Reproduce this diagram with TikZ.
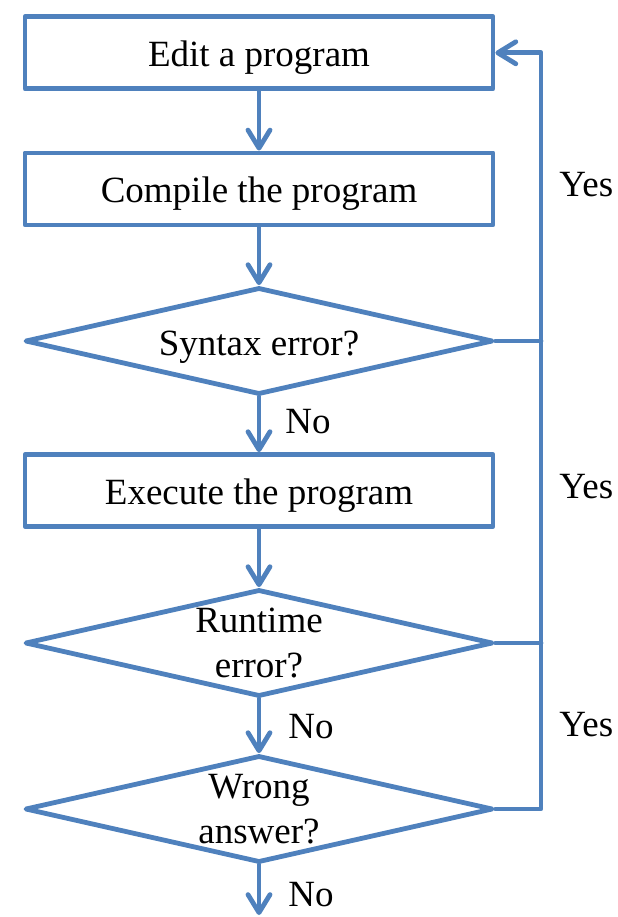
\documentclass[tikz,border=0pt]{standalone}
\usepackage{fontspec}
\setmainfont{Liberation Serif}
\usetikzlibrary{arrows.meta,shapes.geometric}
\definecolor{ln}{RGB}{79,129,189}
\tikzset{
  every picture/.style={line width=2.4pt, line join=round, line cap=round,
    >={Straight Barb[length=9pt,width=11pt,round]}},
  every node/.style={font=\fontsize{18.5}{22.5}\selectfont},
  % Kästen
  stepbox/.style={draw=ln, rectangle, minimum width=234pt, minimum height=36pt,
    inner sep=0pt, text height=14pt, text depth=0pt},
  % Verzweigungen
  decide/.style={draw=ln, diamond, aspect=4.37, minimum width=234pt,
    minimum height=53.5pt, inner sep=0pt, align=center},
  oneline/.style={text height=14pt, text depth=0pt},
  % Verbindungen
  flow/.style={ln, ->},
  wire/.style={ln},
  lbl/.style={anchor=west, inner sep=0pt},
}

\begin{document}
\begin{tikzpicture}[x=0.5pt, y=-0.5pt]
  \useasboundingbox (0,0) rectangle (617,917);
  % Schritte
  \node[stepbox] (edit) at (259,52.8) {Edit a program};
  \node[stepbox] (compile) at (259,188.9) {Compile the program};
  \node[decide, oneline] (syntax) at (259,341) {Syntax error?};
  \node[stepbox] (exec) at (259,490.5) {Execute the program};
  \node[decide] (runtime) at (259,643) {Runtime\\error?};
  \node[decide] (wrong) at (259,809) {Wrong\\answer?};
  \coordinate (done) at (259,915);
  \coordinate (rail) at (541,0);
  % Hauptfluss
  \draw[flow] (edit) -- (compile);
  \draw[flow] (compile) -- (syntax);
  \draw[flow] (syntax) -- (exec);
  \draw[flow] (exec) -- (runtime);
  \draw[flow] (runtime) -- (wrong);
  \draw[flow] (wrong) -- (done);
  % Rückführung
  \draw[flow] (wrong.east) -- (wrong.east -| rail) |- (edit.east);
  \draw[wire] (syntax.east) -- (syntax.east -| rail);
  \draw[wire] (runtime.east) -- (runtime.east -| rail);
  % Beschriftung
  \node[lbl] (no1) at (283,422) {No};
  \node[lbl] (no2) at (286,727) {No};
  \node[lbl] (no3) at (286,895) {No};
  \node[lbl] (yes1) at (557,185) {Yes};
  \node[lbl] (yes2) at (557,486.5) {Yes};
  \node[lbl] (yes3) at (557,725) {Yes};
\end{tikzpicture}
\end{document}
